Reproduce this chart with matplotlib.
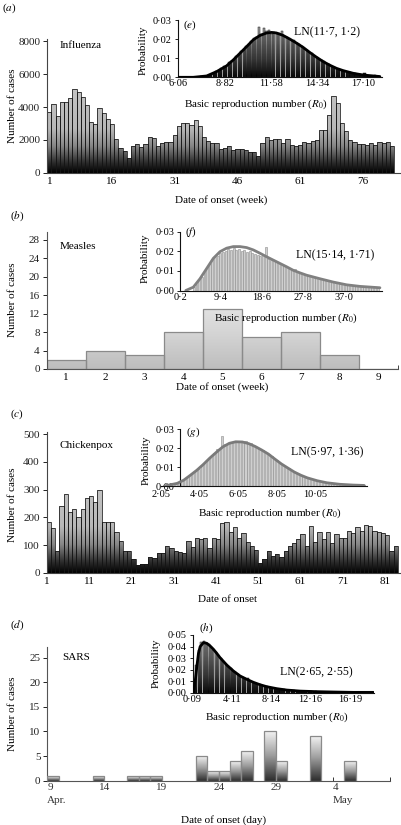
import numpy as np
import matplotlib
matplotlib.use('Agg')
import matplotlib.pyplot as plt
from matplotlib.path import Path
from matplotlib.colors import LinearSegmentedColormap

plt.rcParams['font.family'] = ['Liberation Serif', 'DejaVu Serif']
plt.rcParams['mathtext.fontset'] = 'stix'
plt.rcParams['font.size'] = 8

# ---------------- data ----------------
flu_cases = [3700, 4200, 3450, 4300, 4280, 4580, 5080, 4900, 4600, 4150,
             3100, 2950, 3950, 3620, 3300, 2950, 2080, 1500, 1350, 900,
             1650, 1760, 1560, 1760, 2160, 2100, 1650, 1780, 1850, 1880,
             2320, 2820, 3060, 3060, 2900, 3230, 2860, 2150, 1920, 1780,
             1820, 1420, 1480, 1600, 1380, 1420, 1460, 1380, 1280, 1280,
             1020, 1820, 2150, 1980, 2060, 2060, 1840, 2060, 1680, 1640,
             1680, 1900, 1840, 1960, 2000, 2580, 2620, 3540, 4680, 4240,
             3060, 2540, 1980, 1880, 1720, 1720, 1680, 1780, 1660, 1880,
             1840, 1880, 1620]
flu_ticks = [1, 16, 31, 46, 61, 76]

measles_weeks = [1, 2, 3, 4, 5, 6, 7, 8, 9]
measles_cases = [2, 4, 3, 8, 13, 7, 8, 3, 0]

chick_cases = [182, 163, 78, 242, 283, 218, 229, 200, 229, 268,
               277, 254, 297, 184, 182, 182, 146, 114, 77, 77,
               48, 27, 30, 30, 56, 52, 70, 70, 96, 90,
               79, 75, 70, 116, 94, 124, 121, 126, 88, 126,
               121, 178, 182, 146, 164, 126, 142, 112, 97, 82,
               35, 50, 79, 59, 68, 56, 79, 98, 106, 121,
               139, 98, 170, 110, 146, 121, 146, 106, 139, 124,
               124, 152, 142, 164, 149, 173, 167, 149, 146, 142,
               136, 78, 96]
chick_ticks = [1, 11, 21, 31, 41, 51, 61, 71, 81]

sars_days = [9, 13, 16, 17, 18, 22, 23, 24, 25, 26, 28, 29, 32, 35]
sars_cases = [1, 1, 1, 1, 1, 5, 2, 2, 4, 6, 10, 4, 9, 4]
sars_ticks = [9, 14, 19, 24, 29, 34, 39]
sars_ticklabels = ['9\nApr.', '14', '19', '24', '29', '4\nMay', '']

# R0 histograms (bin start, bin width, probabilities)
e_start, e_width = 6.9, 0.15
e_prob = [0.0000, 0.0002, 0.0003, 0.0006, 0.0004, 0.0008, 0.0012, 0.0018, 0.0025, 0.0034,
          0.0036, 0.0048, 0.0057, 0.0055, 0.0078, 0.0086, 0.0092, 0.0110, 0.0118, 0.0140,
          0.0145, 0.0162, 0.0172, 0.0190, 0.0205, 0.0212, 0.0262, 0.0225, 0.0258, 0.0240,
          0.0246, 0.0228, 0.0236, 0.0226, 0.0230, 0.0240, 0.0214, 0.0210, 0.0203, 0.0192,
          0.0196, 0.0180, 0.0172, 0.0164, 0.0150, 0.0143, 0.0130, 0.0125, 0.0112, 0.0106,
          0.0095, 0.0088, 0.0084, 0.0070, 0.0068, 0.0056, 0.0054, 0.0046, 0.0043, 0.0036,
          0.0033, 0.0029, 0.0026, 0.0022, 0.0021, 0.0017, 0.0015, 0.0013, 0.0023, 0.0011,
          0.0009, 0.0008, 0.0012, 0.0005, 0.0004]
e_fit_r0 = [6.06, 6.95, 7.75, 8.35, 8.94, 9.34, 9.74, 10.14, 10.53, 10.93, 11.33, 11.63,
            11.92, 12.32, 12.72, 13.12, 13.52, 13.91, 14.31, 14.71, 15.11, 15.50, 15.90,
            16.50, 17.09, 18.09]
e_fit_p = [0.0, 0.0, 0.0007, 0.003, 0.006, 0.0091, 0.0126, 0.0161, 0.0196, 0.0219, 0.0232,
           0.0235, 0.0232, 0.0219, 0.0200, 0.0179, 0.0156, 0.0130, 0.0105, 0.0082, 0.0063,
           0.0047, 0.0035, 0.0021, 0.0012, 0.0004]
e_xticks = [6.06, 8.82, 11.58, 14.34, 17.10]

f_start, f_width = 3.0, 0.6
f_prob = [0.0020, 0.0035, 0.0058, 0.0070, 0.0092, 0.0118, 0.0135, 0.0160, 0.0170, 0.0178,
          0.0192, 0.0196, 0.0200, 0.0212, 0.0205, 0.0215, 0.0208, 0.0212, 0.0200, 0.0205,
          0.0196, 0.0200, 0.0192, 0.0188, 0.0180, 0.0176, 0.0182, 0.0222, 0.0160, 0.0158,
          0.0150, 0.0146, 0.0140, 0.0128, 0.0126, 0.0118, 0.0110, 0.0104, 0.0112, 0.0096,
          0.0090, 0.0086, 0.0080, 0.0076, 0.0074, 0.0066, 0.0068, 0.0060, 0.0058, 0.0054,
          0.0052, 0.0046, 0.0048, 0.0040, 0.0038, 0.0036, 0.0034, 0.0032, 0.0028, 0.0030,
          0.0026, 0.0024, 0.0022, 0.0024, 0.0020, 0.0018, 0.0020, 0.0016, 0.0018, 0.0015]
f_fit_r0 = [1.5, 3.2, 4.7, 6.2, 7.7, 9.2, 10.7, 12.2, 13.7, 15.2, 16.7, 18.2, 19.7, 21.2,
            22.7, 24.2, 25.7, 27.2, 28.7, 31.7, 34.7, 37.7, 40.7, 45.2]
f_fit_p = [0.0, 0.0017, 0.006, 0.0112, 0.0164, 0.0198, 0.0216, 0.0224, 0.0224, 0.0219,
           0.0207, 0.019, 0.0172, 0.0155, 0.0138, 0.0121, 0.0103, 0.009, 0.0078, 0.006,
           0.0043, 0.0029, 0.0021, 0.0014]
f_xticks = [0.2, 9.4, 18.6, 27.8, 37.0]

g_start, g_width = 2.3, 0.15
g_prob = [0.0002, 0.0005, 0.0008, 0.0012, 0.0022, 0.0030, 0.0036, 0.0048, 0.0058, 0.0068,
          0.0084, 0.0092, 0.0110, 0.0122, 0.0136, 0.0152, 0.0175, 0.0195, 0.0198, 0.0262,
          0.0222, 0.0230, 0.0226, 0.0240, 0.0236, 0.0238, 0.0232, 0.0236, 0.0222, 0.0226,
          0.0210, 0.0206, 0.0196, 0.0190, 0.0176, 0.0170, 0.0158, 0.0146, 0.0136, 0.0120,
          0.0112, 0.0102, 0.0094, 0.0082, 0.0075, 0.0066, 0.0058, 0.0052, 0.0045, 0.0040,
          0.0036, 0.0032, 0.0028, 0.0024, 0.0020, 0.0018, 0.0016, 0.0014, 0.0012, 0.0011,
          0.0010, 0.0008, 0.0008, 0.0006, 0.0006, 0.0005, 0.0004, 0.0004, 0.0003]
g_fit_r0 = [2.22, 2.89, 3.23, 3.57, 3.90, 4.24, 4.58, 4.91, 5.25, 5.59, 5.92, 6.26, 6.60,
            6.93, 7.27, 7.61, 7.94, 8.28, 8.62, 8.95, 9.29, 9.63, 10.13, 10.64, 11.31,
            11.98, 12.57]
g_fit_p = [0.0, 0.0014, 0.0031, 0.0057, 0.0083, 0.0114, 0.0148, 0.0178, 0.0207, 0.0226,
           0.0234, 0.0233, 0.0224, 0.0209, 0.0190, 0.0169, 0.0143, 0.0117, 0.0095, 0.0074,
           0.0057, 0.0043, 0.0028, 0.0017, 0.0009, 0.0005, 0.0003]
g_xticks = [2.05, 4.05, 6.05, 8.05, 10.05]

h_start, h_width = 0.1, 0.25
h_prob = [0.0040, 0.0240, 0.0370, 0.0440, 0.0450, 0.0430, 0.0418, 0.0398, 0.0372, 0.0350,
          0.0326, 0.0300, 0.0276, 0.0252, 0.0232, 0.0214, 0.0192, 0.0176, 0.0160, 0.0148,
          0.0136, 0.0124, 0.0126, 0.0104, 0.0096, 0.0088, 0.0078, 0.0072, 0.0064, 0.0058,
          0.0054, 0.0048, 0.0044, 0.0040, 0.0036, 0.0034, 0.0030, 0.0028, 0.0026, 0.0024,
          0.0022, 0.0020, 0.0018, 0.0017, 0.0016, 0.0014, 0.0013, 0.0012, 0.0011, 0.0010,
          0.0012, 0.0009, 0.0008, 0.0008, 0.0007, 0.0009, 0.0006, 0.0006, 0.0005, 0.0007,
          0.0005, 0.0004, 0.0006, 0.0004, 0.0004, 0.0005, 0.0003, 0.0004, 0.0003, 0.0005,
          0.0003, 0.0003, 0.0004, 0.0003]
h_fit_r0 = [0.19, 0.36, 0.53, 0.70, 0.87, 1.21, 1.55, 1.89, 2.23, 2.57, 2.91, 3.59, 4.27,
            4.95, 5.63, 6.31, 6.99, 7.68, 8.70, 9.72, 11.08, 12.78, 14.48, 16.52, 18.56]
h_fit_p = [0.0, 0.0095, 0.0225, 0.0341, 0.0399, 0.0434, 0.0428, 0.0405, 0.0376, 0.0341,
           0.0303, 0.0240, 0.0188, 0.0145, 0.0116, 0.0090, 0.0069, 0.0052, 0.0035, 0.0023,
           0.0014, 0.0009, 0.0006, 0.0003, 0.0003]
h_xticks = [0.09, 4.11, 8.14, 12.16, 16.19]

# ---------------- layout helpers ----------------
W, H = 401, 825
fig = plt.figure(figsize=(W / 100, H / 100), dpi=100)


def px_axes(L, T, R, B):
    return fig.add_axes([L / W, 1 - B / H, (R - L) / W, (B - T) / H])


def ftext(x, y, s, **kw):
    kw.setdefault('va', 'center')
    fig.text(x / W, 1 - y / H, s, **kw)


def fmt(v, nd):
    return f"{v:.{nd}f}".replace('.', '\u00b7')


def style_axes(ax, spine_color='#444444', lw=0.8):
    for s in ['top', 'right']:
        ax.spines[s].set_visible(False)
    for s in ['left', 'bottom']:
        ax.spines[s].set_color(spine_color)
        ax.spines[s].set_linewidth(lw)
    ax.tick_params(axis='y', direction='out', length=3, width=0.7, pad=2, colors='#222222')
    ax.tick_params(axis='x', length=0, pad=3)


def clip_gradient(ax, bars, cmap, y0, y1):
    paths = [b.get_path().transformed(b.get_patch_transform()) for b in bars]
    comp = Path.make_compound_path(*paths)
    x0, x1 = ax.get_xlim()
    grad = np.linspace(0, 1, 256).reshape(-1, 1)
    im = ax.imshow(grad, extent=[x0, x1, y0, y1], origin='lower', aspect='auto',
                   cmap=cmap, zorder=1, interpolation='bilinear')
    im.set_clip_path(comp, ax.transData)


dark_cmap = LinearSegmentedColormap.from_list(
    'dk', [(0, '#000000'), (0.08, '#2e2e2e'), (0.2, '#858585'), (0.33, '#b8b8b8'), (1, '#d2d2d2')])
inset_dark = LinearSegmentedColormap.from_list(
    'idk', [(0, '#000000'), (0.3, '#484848'), (0.65, '#8a8a8a'), (1, '#b4b4b4')])
light_cmap = LinearSegmentedColormap.from_list(
    'lt', [(0, '#bdbdbd'), (0.25, '#d4d4d4'), (0.5, '#e6e6e6'), (1, '#efefef')])
sars_cmap = LinearSegmentedColormap.from_list('sr', ['#2c2c2c', '#9a9a9a', '#f3f3f3'])

INS_FS = 7.5


def inset(L, T, R, B, xlim, ylim, yticks, xticks, xdec, hist_start, hist_width, hist_p,
          fit_r0, fit_p, kind, curve_color, letter, letter_xy, ln_text, ln_xy,
          xlabel_xy, ylabel_xy, yspine_at=None, xpad=1.5):
    ax = px_axes(L, T, R, B)
    ax.patch.set_alpha(0)
    ax.set_xlim(*xlim)
    ax.set_ylim(*ylim)
    centers = hist_start + hist_width * (np.arange(len(hist_p)) + 0.5)
    if kind == 'dark':
        bars = ax.bar(centers, hist_p, width=hist_width * 0.85, facecolor='none',
                      edgecolor='#1a1a1a', linewidth=0.35, zorder=2)
        clip_gradient(ax, bars, inset_dark, 0, ylim[1])
    else:
        ax.bar(centers, hist_p, width=hist_width * 0.7, facecolor='#cfcfcf',
               edgecolor='#8c8c8c', linewidth=0.4, zorder=2)
    ax.plot(fit_r0, fit_p, color=curve_color, lw=2.0, zorder=3, solid_capstyle='round')
    ax.set_xlim(*xlim)
    ax.set_ylim(*ylim)
    for s in ['top', 'right']:
        ax.spines[s].set_visible(False)
    for s in ['left', 'bottom']:
        ax.spines[s].set_color('#111111')
        ax.spines[s].set_linewidth(0.8)
    if yspine_at is not None:
        ax.spines['left'].set_position(('data', yspine_at))
    ax.set_yticks(yticks)
    ax.set_yticklabels([fmt(v, 2) for v in yticks], fontsize=INS_FS)
    ax.set_xticks(xticks)
    ax.set_xticklabels([fmt(v, xdec) for v in xticks], fontsize=INS_FS)
    ax.tick_params(axis='y', direction='out', length=2.5, width=0.6, pad=1.5)
    ax.tick_params(axis='x', length=0, pad=xpad)
    ftext(*letter_xy, letter, fontsize=8, ha='left')
    ftext(*ln_xy, ln_text, fontsize=8.5, ha='center')
    ftext(*xlabel_xy, 'Basic reproduction number ($R_0$)', fontsize=8, ha='center')
    ftext(*ylabel_xy, 'Probability', fontsize=8, ha='center', rotation=90)
    return ax


# ---------------- panel (a) influenza ----------------
axA = px_axes(47.3, 39, 400, 172.7)
weeks = np.arange(1, len(flu_cases) + 1)
axA.set_xlim(0.5, 84.9)
axA.set_ylim(0, 8150)
barsA = axA.bar(weeks, flu_cases, width=1.0, facecolor='none', edgecolor='#151515',
                linewidth=0.55, zorder=2)
clip_gradient(axA, barsA, dark_cmap, 0, 8150)
axA.set_xlim(0.5, 84.9)
axA.set_ylim(0, 8150)
style_axes(axA)
axA.set_yticks([0, 2000, 4000, 6000, 8000])
axA.set_xticks(flu_ticks)
ftext(2, 8, '($a$)', ha='left')
ftext(60, 46, 'Influenza', ha='left')
ftext(221, 200, 'Date of onset (week)', ha='center')
ftext(13, 106, 'Number of cases', ha='center', rotation=90)

inset(177.5, 20, 381.7, 77.3, (6.01, 18.2), (0, 0.03), [0, 0.01, 0.02, 0.03], e_xticks, 2,
      e_start, e_width, e_prob, e_fit_r0, e_fit_p, 'dark', '#000000',
      '($e$)', (183, 25), 'LN(11\u00b77, 1\u00b72)', (327, 32), (256, 104), (143, 50))

# ---------------- panel (b) measles ----------------
axB = px_axes(46.7, 231.7, 398.3, 369)
axB.set_xlim(0.5, 9.5)
axB.set_ylim(0, 29.7)
barsB = axB.bar(measles_weeks, measles_cases, width=1.0, facecolor='none',
                edgecolor='#8a8a8a', linewidth=0.9, zorder=2)
clip_gradient(axB, barsB, light_cmap, 0, 29.7)
axB.set_xlim(0.5, 9.5)
axB.set_ylim(0, 29.7)
style_axes(axB, spine_color='#555555')
axB.set_yticks([0, 4, 8, 12, 16, 20, 24, 28])
axB.set_xticks(measles_weeks)
axB.set_xticks([w + 0.5 for w in measles_weeks], minor=True)
axB.tick_params(axis='x', which='minor', direction='in', length=3, width=0.7, colors='#444444')
ftext(10, 216, '($b$)', ha='left')
ftext(60, 247, 'Measles', ha='left')
ftext(222, 387, 'Date of onset (week)', ha='center')
ftext(13, 300, 'Number of cases', ha='center', rotation=90)

inset(180, 231.7, 381.7, 290.5, (0.2, 45.6), (0, 0.03), [0, 0.01, 0.02, 0.03], f_xticks, 1,
      f_start, f_width, f_prob, f_fit_r0, f_fit_p, 'light', '#808080',
      '($f$)', (185, 232), 'LN(15\u00b714, 1\u00b771)', (335, 255), (286, 318), (145, 258))

# ---------------- panel (c) chickenpox ----------------
axC = px_axes(46.7, 432, 401, 572.7)
days_c = np.arange(1, len(chick_cases) + 1)
axC.set_xlim(1, 84.76)
axC.set_ylim(0, 508)
barsC = axC.bar(days_c, chick_cases, width=1.0, align='edge', facecolor='none',
                edgecolor='#151515', linewidth=0.55, zorder=2)
clip_gradient(axC, barsC, dark_cmap, 0, 508)
axC.set_xlim(1, 84.76)
axC.set_ylim(0, 508)
style_axes(axC)
axC.set_yticks([0, 100, 200, 300, 400, 500])
axC.set_xticks(chick_ticks)
ftext(10, 414, '($c$)', ha='left')
ftext(60, 445, 'Chickenpox', ha='left')
ftext(228, 600, 'Date of onset', ha='center')
ftext(13, 505, 'Number of cases', ha='center', rotation=90)

inset(161, 429.3, 366.7, 486, (2.05, 12.7), (0, 0.03), [0, 0.01, 0.02, 0.03], g_xticks, 2,
      g_start, g_width, g_prob, g_fit_r0, g_fit_p, 'light', '#7a7a7a',
      '($g$)', (186, 432), 'LN(5\u00b797, 1\u00b736)', (327, 452), (270, 513), (146, 460),
      yspine_at=3.05, xpad=3.2)

# ---------------- panel (d) SARS ----------------
axD = px_axes(47.3, 646.7, 390, 780.7)
axD.set_xlim(9, 39)
axD.set_ylim(0, 27.2)
barsD = axD.bar(sars_days, sars_cases, width=1.0, align='edge', facecolor='none',
                edgecolor='#8a8a8a', linewidth=0.9, zorder=3)
grad = np.linspace(0, 1, 128).reshape(-1, 1)
for b in barsD:
    x0, w, h = b.get_x(), b.get_width(), b.get_height()
    axD.imshow(grad, extent=[x0, x0 + w, 0, h], origin='lower', aspect='auto',
               cmap=sars_cmap, zorder=2, interpolation='bilinear')
axD.set_xlim(9, 39)
axD.set_ylim(0, 27.2)
style_axes(axD, spine_color='#555555')
axD.set_yticks([0, 5, 10, 15, 20, 25])
axD.set_xticks(sars_ticks)
axD.set_xticklabels(sars_ticklabels, linespacing=1.5)
for lbl in axD.get_xticklabels():
    if '\n' in lbl.get_text():
        lbl.set_horizontalalignment('left')
        lbl.set_multialignment('left')
axD.tick_params(axis='x', direction='in', length=3, width=0.7, colors='#333333', pad=2)
ftext(10, 625, '($d$)', ha='left')
ftext(62, 658, 'SARS', ha='left')
ftext(224, 820, 'Date of onset (day)', ha='center')
ftext(13, 714, 'Number of cases', ha='center', rotation=90)

inset(192.5, 635, 374, 692.7, (0.09, 18.63), (0, 0.05), [0, 0.01, 0.02, 0.03, 0.04, 0.05],
      h_xticks, 2, h_start, h_width, h_prob, h_fit_r0, h_fit_p, 'dark', '#000000',
      '($h$)', (199, 628), 'LN(2\u00b765, 2\u00b755)', (316, 672), (277, 717), (156, 663))

fig.savefig('out.png', dpi=100)
